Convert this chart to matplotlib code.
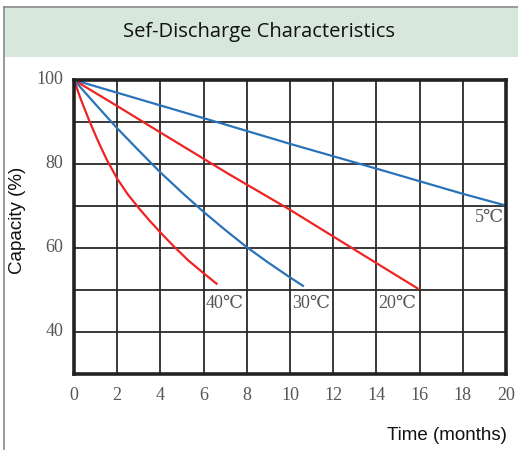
#Self-discharge characteristics: remaining capacity vs storage time at 4 temperatures
import matplotlib.pyplot as plt
from matplotlib.patches import Rectangle
from matplotlib.lines import Line2D

#5 C line (blue)
t_5 = [0, 7.2, 10, 14, 18, 20]
cap_5 = [100, 89.1, 84.8, 78.9, 72.9, 70.1]
#20 C line (red)
t_20 = [0, 2, 4, 7.2, 10, 14, 15.9]
cap_20 = [100, 93.8, 87.5, 77.5, 69.1, 56.4, 50.4]
#30 C line (blue)
t_30 = [0, 1, 2, 3, 4, 5, 6, 7, 8, 9, 10, 10.6]
cap_30 = [100, 94.2, 88.5, 83.2, 78, 73.2, 68.6, 64.3, 60.2, 56.5, 53, 51]
#40 C line (red)
t_40 = [0, 0.3, 0.7, 1.1, 1.5, 2, 2.5, 3, 3.5, 4, 4.6, 5.3, 6, 6.6]
cap_40 = [100, 95.6, 90.4, 85.6, 81.2, 76.5, 72.7, 69.5, 66.5, 63.7, 60.5, 57.0, 54.0, 51.5]

labels = ["5℃", "20℃", "30℃", "40℃"]
xticks = [0, 2, 4, 6, 8, 10, 12, 14, 16, 18, 20]
yticks = [40, 60, 80, 100]

blue = "#2b73b9"
red = "#ee2424"
serif = ["Liberation Serif", "DejaVu Serif"]

fig = plt.figure(figsize=(5.18, 4.5), dpi=100)

#header bar and frame
fig.patches.append(Rectangle((4/518, 1-57/450), 1, 50/450, transform=fig.transFigure,
                             facecolor="#d7e7db", edgecolor="none"))
fig.lines.append(Line2D([4/518, 4/518], [0, 1-7/450], transform=fig.transFigure, color="#8a8a8a", lw=1.2))
fig.lines.append(Line2D([4/518, 1], [1-7/450, 1-7/450], transform=fig.transFigure, color="#8a8a8a", lw=1.2))
fig.text(259/518, 1-32/450, "Sef-Discharge Characteristics", ha="center", va="center",
         fontsize=14.5, family="Open Sans", weight="medium", color="#111111")

ax = fig.add_axes([74/518, 1-374/450, 432/518, 294/450])
ax.plot(t_5, cap_5, color=blue, lw=1.6)
ax.plot(t_20, cap_20, color=red, lw=1.6)
ax.plot(t_30, cap_30, color=blue, lw=1.6)
ax.plot(t_40, cap_40, color=red, lw=1.6)

ax.set_xlim(0, 20)
ax.set_ylim(30, 100)
ax.set_xticks(range(0, 21, 2))
ax.set_yticks(range(30, 101, 10))
ax.grid(True, color="#2a2a2a", lw=1.3)
ax.tick_params(length=0, labelleft=False, labelbottom=False)
for s in ax.spines.values():
    s.set_linewidth(2.6)
    s.set_color("#222222")

for x in xticks:
    ax.text(x, 24.8, str(x), ha="center", va="center", fontsize=13, family=serif, color="#555555")
for y in yticks:
    ax.text(-0.5, y, str(y), ha="right", va="center", fontsize=13, family=serif, color="#555555")

#curve labels
ax.text(19.9, 67.3, labels[0], ha="right", va="center", fontsize=13, family=serif, color="#555555")
ax.text(14.1, 46.9, labels[1], ha="left", va="center", fontsize=13, family=serif, color="#555555")
ax.text(10.1, 46.9, labels[2], ha="left", va="center", fontsize=13, family=serif, color="#555555")
ax.text(6.1, 46.9, labels[3], ha="left", va="center", fontsize=13, family=serif, color="#555555")

fig.text(18/518, 1-220/450, "Capacity (%)", rotation=90, ha="center", va="center",
         fontsize=13.5, family="Liberation Sans", color="#111111")
fig.text(507/518, 1-436/450, "Time (months)", ha="right", va="center",
         fontsize=13.5, family="Liberation Sans", color="#111111")

fig.savefig("out.png", dpi=100)
